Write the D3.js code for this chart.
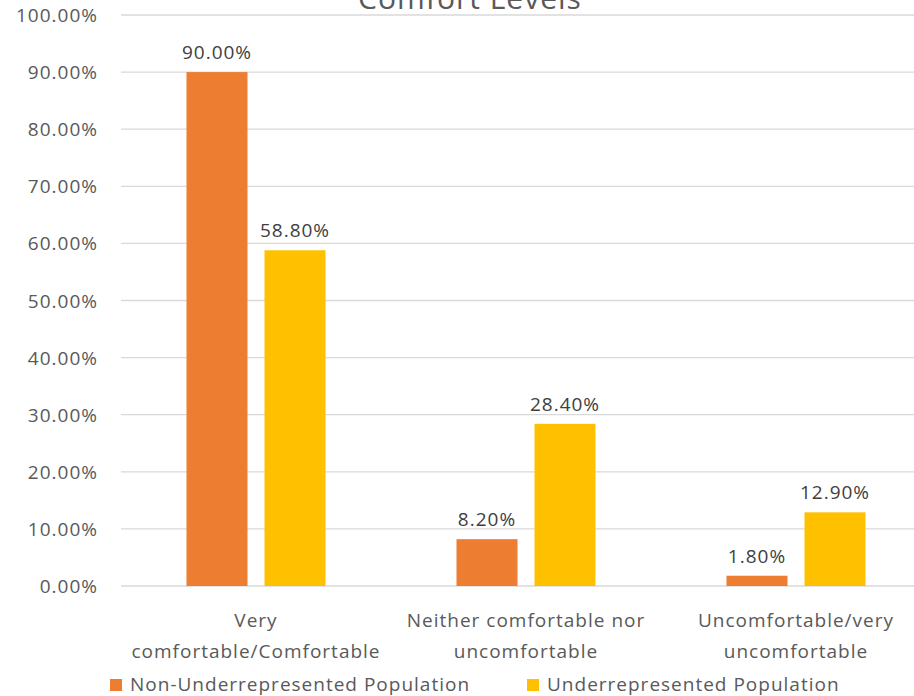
<!DOCTYPE html>
<html>
<head>
<meta charset="utf-8">
<script src="https://cdn.jsdelivr.net/npm/d3@7"></script>
<style>
  body { margin: 0; background: #fff; }
  text { font-family: "Open Sans", sans-serif; letter-spacing: 1px; }
</style>
</head>
<body>
<div id="chart"></div>
<script>
// data
var categories = [
  ["Very", "comfortable/Comfortable"],
  ["Neither comfortable nor", "uncomfortable"],
  ["Uncomfortable/very", "uncomfortable"]
];
var seriesNames = ["Non-Underrepresented Population", "Underrepresented Population"];
var nonUnderrep = [90.0, 8.2, 1.8];
var underrep = [58.8, 28.4, 12.9];
var yTicks = [0, 10, 20, 30, 40, 50, 60, 70, 80, 90, 100];
var colors = ["#ED7D31", "#FFC000"];

var width = 914, height = 696;
var svg = d3.select("#chart").append("svg")
  .attr("width", width).attr("height", height);

var x = d3.scaleBand().domain([0, 1, 2]).range([121, 931]).paddingInner(0).paddingOuter(0);
var y = d3.scaleLinear().domain([0, 100]).range([586, 15]);
var barW = 61, gap = 17;

// gridlines
svg.append("g").selectAll("line").data(yTicks).enter().append("line")
  .attr("x1", 121).attr("x2", width)
  .attr("y1", function(d){ return y(d); }).attr("y2", function(d){ return y(d); })
  .attr("stroke", "#D9D9D9").attr("stroke-width", 1.3);

// y tick labels
svg.append("g").selectAll("text").data(yTicks).enter().append("text")
  .attr("x", 98).attr("y", function(d){ return y(d) + 7; })
  .attr("text-anchor", "end").attr("font-size", 19).attr("fill", "#595959")
  .text(function(d){ return d.toFixed(2) + "%"; });

// title (clipped at top like the reference)
svg.append("text").attr("x", 470).attr("y", 9)
  .attr("text-anchor", "middle").attr("font-size", 30).attr("fill", "#595959")
  .text("Comfort Levels");

var series = [nonUnderrep, underrep];
series.forEach(function(vals, s) {
  var g = svg.append("g");
  var bx = function(i){
    var c = x(i) + x.bandwidth() / 2;
    return s === 0 ? c - gap / 2 - barW : c + gap / 2;
  };
  g.selectAll("rect").data(vals).enter().append("rect")
    .attr("x", function(d, i){ return bx(i); })
    .attr("y", function(d){ return y(d); })
    .attr("width", barW)
    .attr("height", function(d){ return y(0) - y(d); })
    .attr("fill", colors[s]);
  g.selectAll("text").data(vals).enter().append("text")
    .attr("x", function(d, i){ return bx(i) + barW / 2; })
    .attr("y", function(d){ return y(d) - 13; })
    .attr("text-anchor", "middle").attr("font-size", 19).attr("fill", "#404040")
    .text(function(d){ return d.toFixed(2) + "%"; });
});

// category labels
var cat = svg.append("g").selectAll("text").data(categories).enter().append("text")
  .attr("x", function(d, i){ return x(i) + x.bandwidth() / 2; })
  .attr("y", 627)
  .attr("text-anchor", "middle").attr("font-size", 19).attr("fill", "#595959");
cat.selectAll("tspan").data(function(d){ return d; }).enter().append("tspan")
  .attr("x", function(){ return d3.select(this.parentNode).attr("x"); })
  .attr("dy", function(d, j){ return j === 0 ? 0 : 31; })
  .text(function(d){ return d; });

// legend
var legX = [110, 527];
var leg = svg.append("g").selectAll("g").data(seriesNames).enter().append("g")
  .attr("transform", function(d, i){ return "translate(" + legX[i] + ",679)"; });
leg.append("rect").attr("width", 12).attr("height", 12)
  .attr("fill", function(d, i){ return colors[i]; });
leg.append("text").attr("x", 20).attr("y", 12)
  .attr("font-size", 19).attr("fill", "#595959")
  .text(function(d){ return d; });
</script>
</body>
</html>
